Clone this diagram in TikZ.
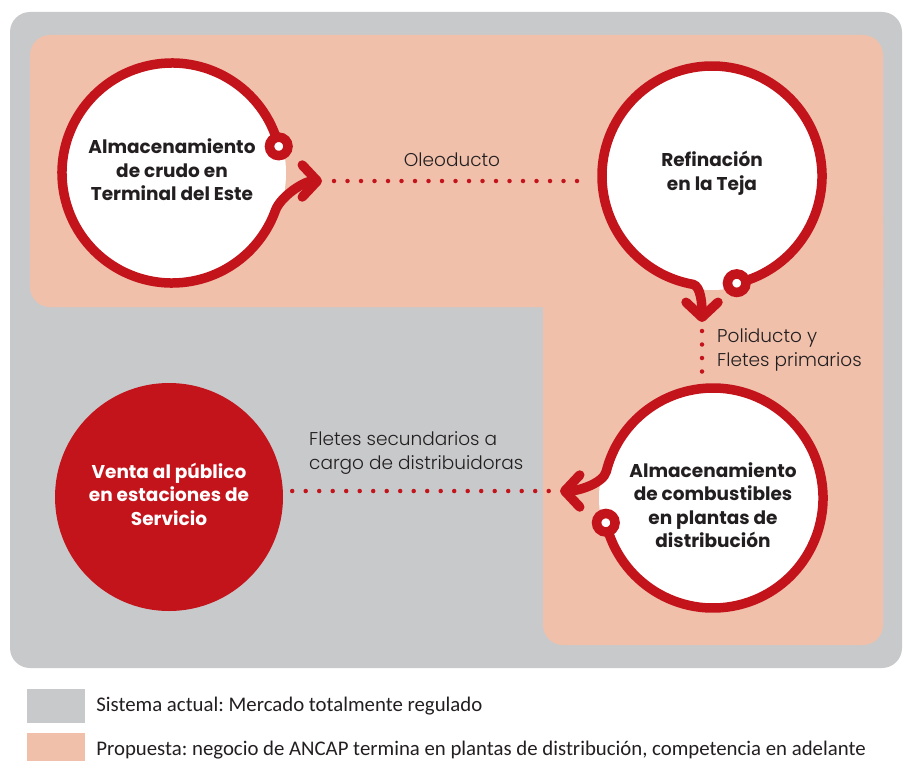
\documentclass[tikz,border=0pt]{standalone}
\usepackage{fontspec}
\setmainfont{Carlito}
\newfontfamily\headfont{Poppins}
\newfontfamily\thinfont{Poppins Light}
\usepackage{tikz}
\usetikzlibrary{arrows.meta,calc,positioning}
\frenchspacing
\definecolor{fondo}{HTML}{C8C9CB}
\definecolor{propuesta}{HTML}{F0C0AB}
\definecolor{ancap}{HTML}{C3141C}
\definecolor{texto}{HTML}{231F20}
\tikzstyle{etapa}=[
    circle,
    fill=white,
    minimum size=228pt,
    inner sep=0pt]
\tikzstyle{venta}=[etapa, fill=ancap]
\tikzstyle{nombre}=[
    text=texto,
    align=center,
    inner sep=0pt,
    font=\headfont\bfseries\fontsize{18.5}{23.5}\selectfont]
\tikzstyle{anillo}=[
    draw=ancap,
    line width=9.5pt,
    line cap=round,
    -{Straight Barb[length=15pt,width=32pt,round]}]
\tikzstyle{perilla}=[
    circle,
    draw=ancap,
    fill=white,
    line width=9.5pt,
    minimum size=18.5pt,
    inner sep=0pt]
\tikzstyle{puntos}=[
    draw=ancap,
    line width=4.5pt,
    line cap=round,
    dash pattern=on 0pt off 13.5pt]
\tikzstyle{rotulo}=[
    text=texto,
    align=left,
    inner sep=0pt,
    font=\thinfont\fontsize{18.5}{24}\selectfont]
\tikzstyle{cuadro}=[
    rectangle,
    minimum width=58pt,
    minimum height=34pt,
    inner sep=0pt]
\tikzstyle{leyenda}=[
    text=texto,
    inner sep=0pt,
    font=\fontsize{20.8}{24}\selectfont]

\begin{document}
\begin{tikzpicture}[x=1pt,y=-1pt]
    \useasboundingbox (0,0) rectangle (904,760);
    \fill[fondo, rounded corners=20pt] (10,12) rectangle (902,668);
    \fill[propuesta, rounded corners=20pt] (30,35) rectangle (883,307);
    \fill[propuesta, rounded corners=20pt] (543,200) rectangle (883,645);

    \node[etapa] (crudo) at (172,173) {};
    \node[etapa] (refina) at (712,176) {};
    \node[etapa] (planta) at (713,498) {};
    \node[venta] (venta) at (169,497) {};

    \node[nombre, yshift=3pt] (tcrudo) at (crudo) {Almacenamiento\\de crudo en\\Terminal del Este};
    \node[nombre, yshift=3pt] (trefina) at (refina) {Refinación\\en la Teja};
    \node[nombre, yshift=-7pt] (tplanta) at (planta) {Almacenamiento\\de combustibles\\en plantas de\\distribución};
    \node[nombre, text=white, yshift=3pt] (tventa) at (venta) {Venta al público\\en estaciones de\\Servicio};

    \draw[anillo] ($(crudo)+(-14:110)$) arc[start angle=-14, end angle=-340, radius=110]
        .. controls +(5,-14) and +(-18,0) .. (322,181) coordinate (oleo);
    \draw[anillo] ($(refina)+(77:110)$) arc[start angle=77, end angle=-260, radius=110]
        .. controls +(8,2) and +(0,-18) .. (702,322) coordinate (poli);
    \draw[anillo] ($(planta)+(167:110)$) arc[start angle=167, end angle=-166, radius=110]
        .. controls +(-3,12) and +(18,0) .. (560,491) coordinate (flete);

    \node[perilla] (k1) at ($(crudo)+(-14:110)$) {};
    \node[perilla] (k2) at ($(refina)+(77:110)$) {};
    \node[perilla] (k3) at ($(planta)+(167:110)$) {};

    \draw[puntos, shorten >=8pt] ([xshift=12pt]oleo) -- (oleo -| refina.west);
    \draw[puntos, shorten >=6pt] ([yshift=-9pt]poli) -- (poli |- planta.north);
    \draw[puntos, shorten <=9pt, shorten >=5pt] (venta.east |- flete) -- (flete);

    \node[rotulo] (oleoducto) at (452,160) {Oleoducto};
    \node[rotulo, anchor=west] (poliducto) at (717,350) {Poliducto y\\Fletes primarios};
    \node[rotulo, anchor=west] (fletes) at (309,453) {Fletes secundarios a\\cargo de distribuidoras};

    \node[cuadro, fill=fondo] (leyact) at (56,706) {};
    \node[leyenda, right=11pt of leyact] (txtact) {Sistema actual: Mercado totalmente regulado};
    \node[cuadro, fill=propuesta] (leyprop) at (56,750) {};
    \node[leyenda, right=11pt of leyprop] (txtprop) {Propuesta: negocio de ANCAP termina en plantas de distribución, competencia en adelante};
\end{tikzpicture}
\end{document}
